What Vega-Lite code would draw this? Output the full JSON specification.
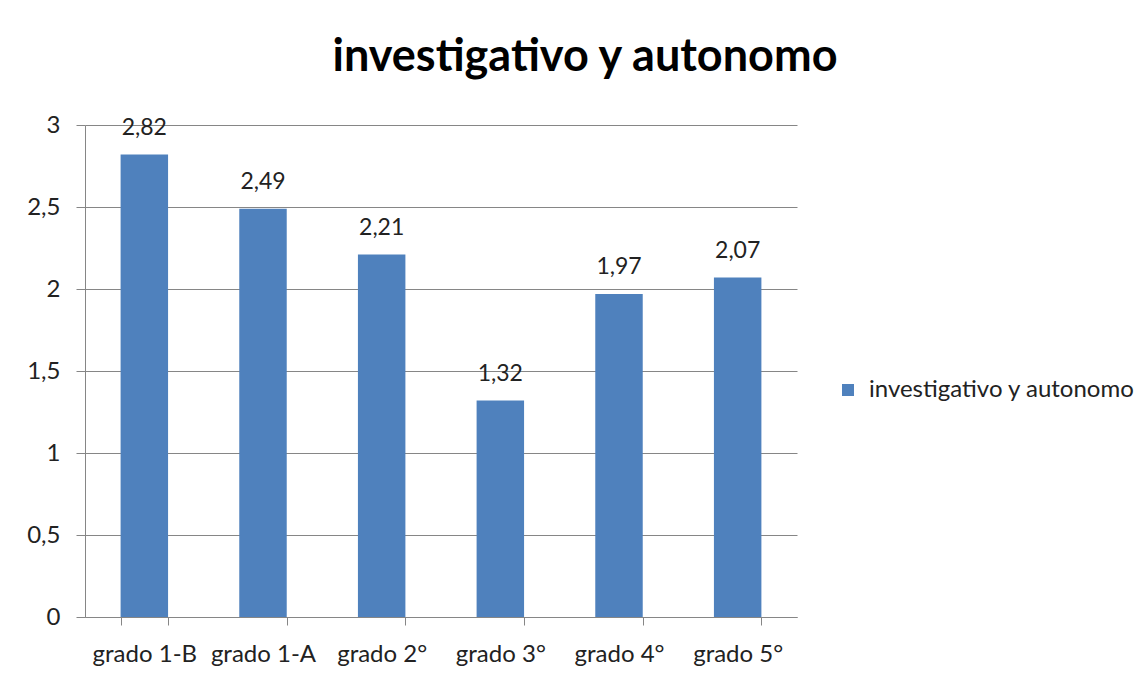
{
  "$schema": "https://vega.github.io/schema/vega-lite/v6.json",
  "width": 712,
  "height": 492,
  "autosize": "none",
  "padding": {"left": 85, "top": 125, "right": 351, "bottom": 59},
  "background": "white",
  "title": {
    "text": "investigativo y autonomo",
    "fontSize": 45,
    "fontWeight": "bold",
    "font": "Lato",
    "color": "#000000",
    "anchor": "middle",
    "frame": "group",
    "dx": 144,
    "offset": 33
  },
  "config": {
    "locale": {
      "number": {"decimal": ",", "thousands": ".", "grouping": [3], "currency": ["", ""]}
    },
    "view": {"stroke": null},
    "font": "Lato",
    "axis": {
      "domainColor": "#868686",
      "gridColor": "#868686",
      "tickColor": "#868686",
      "labelColor": "#222222",
      "labelFont": "Lato",
      "labelFontSize": 24,
      "title": null
    }
  },
  "data": {
    "values": [
      {"grado": "grado 1-B", "valor": 2.82, "serie": "investigativo y autonomo"},
      {"grado": "grado 1-A", "valor": 2.49, "serie": "investigativo y autonomo"},
      {"grado": "grado 2°", "valor": 2.21, "serie": "investigativo y autonomo"},
      {"grado": "grado 3°", "valor": 1.32, "serie": "investigativo y autonomo"},
      {"grado": "grado 4°", "valor": 1.97, "serie": "investigativo y autonomo"},
      {"grado": "grado 5°", "valor": 2.07, "serie": "investigativo y autonomo"}
    ]
  },
  "encoding": {
    "x": {
      "field": "grado",
      "type": "nominal",
      "sort": null,
      "scale": {"paddingInner": 0.6, "paddingOuter": 0.3},
      "axis": {
        "labelAngle": 0,
        "tickBand": "extent",
        "tickSize": 8,
        "labelPadding": 17,
        "labelLimit": 200,
        "grid": false
      }
    },
    "y": {
      "field": "valor",
      "type": "quantitative",
      "scale": {"domain": [0, 3]},
      "axis": {
        "values": [0, 0.5, 1, 1.5, 2, 2.5, 3],
        "format": ".1~f",
        "tickSize": 9,
        "labelPadding": 16,
        "grid": true,
        "gridWidth": 1
      }
    }
  },
  "layer": [
    {
      "mark": {"type": "bar"},
      "encoding": {
        "color": {
          "field": "serie",
          "type": "nominal",
          "scale": {"range": ["#4F81BD"]},
          "legend": {
            "title": null,
            "orient": "none",
            "legendX": 751,
            "legendY": 253,
            "symbolType": "square",
            "symbolSize": 144,
            "symbolStrokeWidth": 0,
            "labelFontSize": 24,
            "labelFont": "Lato",
            "labelColor": "#222222",
            "labelOffset": 9,
            "labelLimit": 400,
            "padding": 0
          }
        }
      }
    },
    {
      "mark": {"type": "text", "dy": -15, "baseline": "bottom", "fontSize": 23, "color": "#222222", "font": "Lato"},
      "encoding": {
        "text": {"field": "valor", "type": "quantitative", "format": ".2f"}
      }
    }
  ]
}
